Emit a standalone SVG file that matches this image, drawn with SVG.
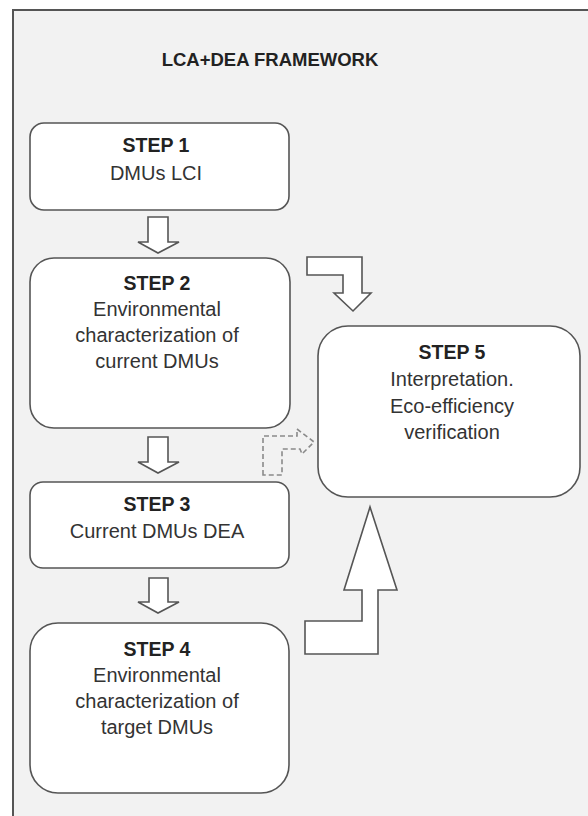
<svg xmlns="http://www.w3.org/2000/svg" width="588" height="816" viewBox="0 0 588 816">
  <style>
    .frame { fill: #f2f2f2; stroke: #555; stroke-width: 2; }
    .box { fill: #ffffff; stroke: #555; stroke-width: 1.6; }
    .arrow { fill: #ffffff; stroke: #555; stroke-width: 1.6; stroke-linejoin: miter; }
    .dashed { fill: none; stroke: #8a8a8a; stroke-width: 1.6; stroke-dasharray: 5 3; }
    .title { font-family: "Liberation Sans", Arial, sans-serif; font-size: 18.5px; font-weight: bold; fill: #222; text-anchor: middle; }
    .step { font-family: "Liberation Sans", Arial, sans-serif; font-size: 19.5px; font-weight: bold; fill: #222; text-anchor: middle; }
    .body { font-family: "Liberation Sans", Arial, sans-serif; font-size: 20px; fill: #333; text-anchor: middle; }
  </style>

  <rect x="0" y="0" width="588" height="816" fill="#ffffff"/>
  <!-- outer panel, running off the right and bottom edges -->
  <rect class="frame" x="13" y="10" width="600" height="830"/>

  <text class="title" x="270" y="66">LCA+DEA FRAMEWORK</text>

  <g id="step1">
    <rect class="box" x="30" y="123" width="259" height="87" rx="14"/>
    <text class="step" x="156" y="152">STEP 1</text>
    <text class="body" x="156" y="180">DMUs LCI</text>
  </g>

  <g id="step2">
    <rect class="box" x="30" y="258" width="260" height="170" rx="24"/>
    <text class="step" x="157" y="290">STEP 2</text>
    <text class="body" x="157" y="316">Environmental</text>
    <text class="body" x="157" y="342">characterization of</text>
    <text class="body" x="157" y="368">current DMUs</text>
  </g>

  <g id="step3">
    <rect class="box" x="30" y="482" width="259" height="86" rx="13"/>
    <text class="step" x="157" y="511">STEP 3</text>
    <text class="body" x="157" y="538">Current DMUs DEA</text>
  </g>

  <g id="step4">
    <rect class="box" x="30" y="623" width="259" height="170" rx="28"/>
    <text class="step" x="157" y="656">STEP 4</text>
    <text class="body" x="157" y="682">Environmental</text>
    <text class="body" x="157" y="708">characterization of</text>
    <text class="body" x="157" y="734">target DMUs</text>
  </g>

  <g id="step5">
    <rect class="box" x="318" y="326" width="262" height="171" rx="30"/>
    <text class="step" x="452" y="359">STEP 5</text>
    <text class="body" x="452" y="386">Interpretation.</text>
    <text class="body" x="452" y="413">Eco-efficiency</text>
    <text class="body" x="452" y="439">verification</text>
  </g>

  <g id="connectors">
    <!-- block arrows between the stacked steps -->
    <polygon class="arrow" points="148,217 168,217 168,242 179,242 158,253 138,242 148,242"/>
    <polygon class="arrow" points="148,437 168,437 168,462 179,462 158,473 138,462 148,462"/>
    <polygon class="arrow" points="149,578 168,578 168,602 179,602 158,613 138,602 149,602"/>
    <!-- step 2 into step 5 -->
    <polygon class="arrow" points="307,257 362,257 362,293 371,293 353,311 334,293 343,293 343,275 307,275"/>
    <!-- dashed feedback from step 3 region towards step 5 -->
    <polygon class="dashed" points="263,475 263,436 297,436 297,429 314,442 302,454 300,449 282,449 282,475"/>
    <!-- step 4 up into step 5 -->
    <polygon class="arrow" points="305,654 378,654 378,590 397,590 370,507 344,590 362,590 362,621 305,621"/>
  </g>
</svg>
